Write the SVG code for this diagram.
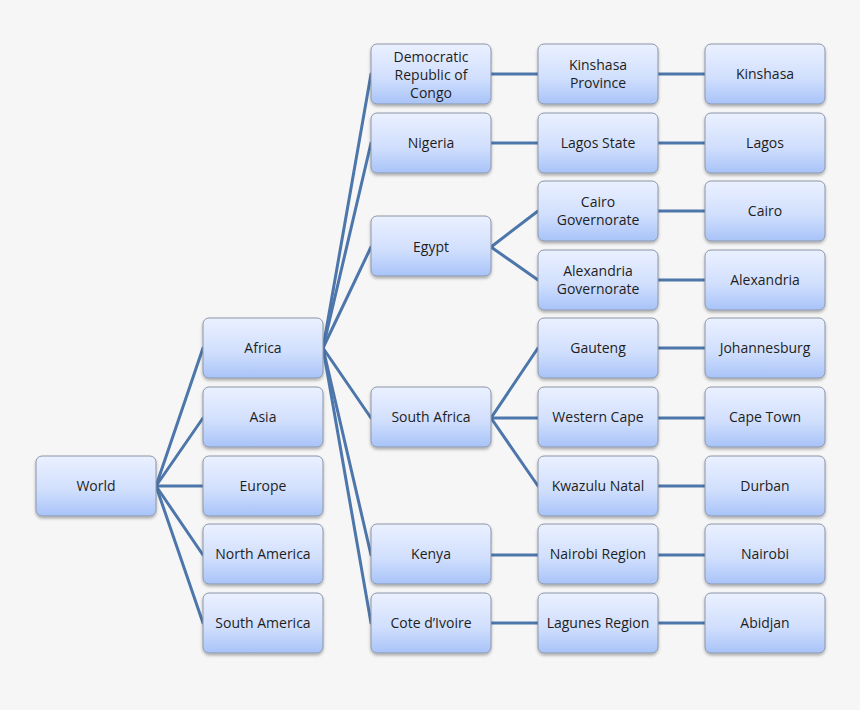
<svg xmlns="http://www.w3.org/2000/svg" width="860" height="710" viewBox="0 0 860 710">
<defs>
<linearGradient id="g" x1="0" y1="0" x2="0" y2="1">
<stop offset="0" stop-color="#eaf0ff"/>
<stop offset="0.55" stop-color="#d2e0fd"/>
<stop offset="1" stop-color="#a8c3f8"/>
</linearGradient>
<filter id="sh" x="-10%" y="-10%" width="120%" height="130%">
<feDropShadow dx="0" dy="2" stdDeviation="1.5" flood-color="#000" flood-opacity="0.3"/>
</filter>
<style>
.n rect{fill:url(#g);stroke:#8c96a8;stroke-width:1;filter:url(#sh)}
.n text{font-family:"Open Sans","Liberation Sans",sans-serif;font-size:14px;fill:#1e1e1e;text-anchor:middle}
.c line{stroke:#4d76ab;stroke-width:3;stroke-linecap:round}
</style>
</defs>
<rect width="860" height="710" fill="#f6f6f6"/>
<g class="c" id="connectors">
<line x1="156" y1="486" x2="203" y2="348"/>
<line x1="156" y1="486" x2="203" y2="418"/>
<line x1="156" y1="486" x2="203" y2="486"/>
<line x1="156" y1="486" x2="203" y2="555"/>
<line x1="156" y1="486" x2="203" y2="623"/>
<line x1="323" y1="348" x2="371" y2="74"/>
<line x1="323" y1="348" x2="371" y2="143"/>
<line x1="323" y1="348" x2="371" y2="247"/>
<line x1="323" y1="348" x2="371" y2="418"/>
<line x1="323" y1="348" x2="371" y2="555"/>
<line x1="323" y1="348" x2="371" y2="623"/>
<line x1="491" y1="74" x2="538" y2="74"/>
<line x1="491" y1="143" x2="538" y2="143"/>
<line x1="491" y1="247" x2="538" y2="211"/>
<line x1="491" y1="247" x2="538" y2="280"/>
<line x1="491" y1="418" x2="538" y2="348"/>
<line x1="491" y1="418" x2="538" y2="418"/>
<line x1="491" y1="418" x2="538" y2="486"/>
<line x1="491" y1="555" x2="538" y2="555"/>
<line x1="491" y1="623" x2="538" y2="623"/>
<line x1="658" y1="74" x2="705" y2="74"/>
<line x1="658" y1="143" x2="705" y2="143"/>
<line x1="658" y1="211" x2="705" y2="211"/>
<line x1="658" y1="280" x2="705" y2="280"/>
<line x1="658" y1="348" x2="705" y2="348"/>
<line x1="658" y1="418" x2="705" y2="418"/>
<line x1="658" y1="486" x2="705" y2="486"/>
<line x1="658" y1="555" x2="705" y2="555"/>
<line x1="658" y1="623" x2="705" y2="623"/>
</g>
<g class="n" id="world"><rect x="36" y="456" width="120" height="60" rx="6"/><text x="96" y="491">World</text></g>
<g class="n" id="africa"><rect x="203" y="318" width="120" height="60" rx="6"/><text x="263" y="353">Africa</text></g>
<g class="n" id="asia"><rect x="203" y="387" width="120" height="60" rx="6"/><text x="263" y="422">Asia</text></g>
<g class="n" id="europe"><rect x="203" y="456" width="120" height="60" rx="6"/><text x="263" y="491">Europe</text></g>
<g class="n" id="north-america"><rect x="203" y="524" width="120" height="60" rx="6"/><text x="263" y="559">North America</text></g>
<g class="n" id="south-america"><rect x="203" y="593" width="120" height="60" rx="6"/><text x="263" y="628">South America</text></g>
<g class="n" id="drc"><rect x="371" y="44" width="120" height="60" rx="6"/><text x="431" y="62">Democratic</text><text x="431" y="80">Republic of</text><text x="431" y="98">Congo</text></g>
<g class="n" id="nigeria"><rect x="371" y="113" width="120" height="60" rx="6"/><text x="431" y="148">Nigeria</text></g>
<g class="n" id="egypt"><rect x="371" y="216" width="120" height="60" rx="6"/><text x="431" y="252">Egypt</text></g>
<g class="n" id="south-africa"><rect x="371" y="387" width="120" height="60" rx="6"/><text x="431" y="422">South Africa</text></g>
<g class="n" id="kenya"><rect x="371" y="524" width="120" height="60" rx="6"/><text x="431" y="559">Kenya</text></g>
<g class="n" id="cote-divoire"><rect x="371" y="593" width="120" height="60" rx="6"/><text x="431" y="628">Cote d’Ivoire</text></g>
<g class="n" id="kinshasa-province"><rect x="538" y="44" width="120" height="60" rx="6"/><text x="598" y="70">Kinshasa</text><text x="598" y="88">Province</text></g>
<g class="n" id="lagos-state"><rect x="538" y="113" width="120" height="60" rx="6"/><text x="598" y="148">Lagos State</text></g>
<g class="n" id="cairo-governorate"><rect x="538" y="181" width="120" height="60" rx="6"/><text x="598" y="207">Cairo</text><text x="598" y="225">Governorate</text></g>
<g class="n" id="alexandria-governorate"><rect x="538" y="250" width="120" height="60" rx="6"/><text x="598" y="276">Alexandria</text><text x="598" y="294">Governorate</text></g>
<g class="n" id="gauteng"><rect x="538" y="318" width="120" height="60" rx="6"/><text x="598" y="353">Gauteng</text></g>
<g class="n" id="western-cape"><rect x="538" y="387" width="120" height="60" rx="6"/><text x="598" y="422">Western Cape</text></g>
<g class="n" id="kwazulu-natal"><rect x="538" y="456" width="120" height="60" rx="6"/><text x="598" y="491">Kwazulu Natal</text></g>
<g class="n" id="nairobi-region"><rect x="538" y="524" width="120" height="60" rx="6"/><text x="598" y="559">Nairobi Region</text></g>
<g class="n" id="lagunes-region"><rect x="538" y="593" width="120" height="60" rx="6"/><text x="598" y="628">Lagunes Region</text></g>
<g class="n" id="kinshasa"><rect x="705" y="44" width="120" height="60" rx="6"/><text x="765" y="79">Kinshasa</text></g>
<g class="n" id="lagos"><rect x="705" y="113" width="120" height="60" rx="6"/><text x="765" y="148">Lagos</text></g>
<g class="n" id="cairo"><rect x="705" y="181" width="120" height="60" rx="6"/><text x="765" y="216">Cairo</text></g>
<g class="n" id="alexandria"><rect x="705" y="250" width="120" height="60" rx="6"/><text x="765" y="285">Alexandria</text></g>
<g class="n" id="johannesburg"><rect x="705" y="318" width="120" height="60" rx="6"/><text x="765" y="353">Johannesburg</text></g>
<g class="n" id="cape-town"><rect x="705" y="387" width="120" height="60" rx="6"/><text x="765" y="422">Cape Town</text></g>
<g class="n" id="durban"><rect x="705" y="456" width="120" height="60" rx="6"/><text x="765" y="491">Durban</text></g>
<g class="n" id="nairobi"><rect x="705" y="524" width="120" height="60" rx="6"/><text x="765" y="559">Nairobi</text></g>
<g class="n" id="abidjan"><rect x="705" y="593" width="120" height="60" rx="6"/><text x="765" y="628">Abidjan</text></g>
</svg>
